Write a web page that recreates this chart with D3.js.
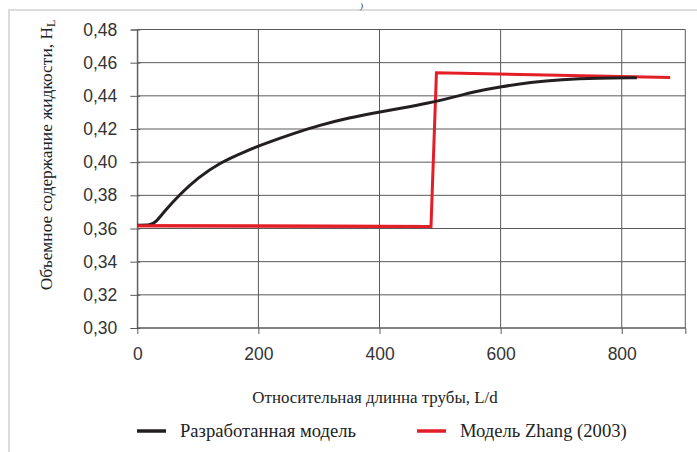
<!DOCTYPE html>
<html>
<head>
<meta charset="utf-8">
<script src="https://cdn.jsdelivr.net/npm/d3@7/dist/d3.min.js"></script>
<style>
  html, body { margin: 0; padding: 0; background: #fff; }
  svg { display: block; }
</style>
</head>
<body>
<svg id="chart" width="697" height="452"></svg>
<script>
// ---- data ----
const xTicks = [0, 200, 400, 600, 800];
const yTicks = [0.30, 0.32, 0.34, 0.36, 0.38, 0.40, 0.42, 0.44, 0.46, 0.48];

const modelL = [0, 22, 30, 45, 70, 100, 135, 180, 215, 260, 300, 350, 400, 440, 480, 520, 560, 600, 650, 700, 760, 825];
const modelH = [0.362, 0.362, 0.3635, 0.3705, 0.3805, 0.3905, 0.3995, 0.4068, 0.4118, 0.4175, 0.4222, 0.4268, 0.4303, 0.4328, 0.4355, 0.4390, 0.4428, 0.4455, 0.4482, 0.4498, 0.4507, 0.4509];

const zhangL = [0, 485, 494, 880];
const zhangH = [0.3617, 0.3612, 0.4539, 0.4511];

const seriesNames = ["Разработанная модель", "Модель Zhang (2003)"];
const seriesColors = ["#231f20", "#e31e27"];

// ---- layout ----
const svg = d3.select("#chart");
const x = d3.scaleLinear().domain([0, 905]).range([137.3, 685.3]);
const y = d3.scaleLinear().domain([0.30, 0.48]).range([328, 29.5]);

// outer frame
svg.append("rect").attr("x", 9).attr("y", 10).attr("width", 700).attr("height", 460)
  .attr("fill", "none").attr("stroke", "#dcdcdc").attr("stroke-width", 2);

// partial caption ")"
svg.append("text").attr("x", 360).attr("y", 8.6)
  .attr("font-family", "Liberation Serif").attr("font-style", "italic")
  .attr("font-size", 9).attr("fill", "#222").text(")");

const gridColor = "#5a5a5a";

// grid lines
svg.append("g").selectAll("line").data(yTicks).join("line")
  .attr("x1", x(0)).attr("x2", x.range()[1])
  .attr("y1", d => y(d)).attr("y2", d => y(d))
  .attr("stroke", gridColor).attr("stroke-width", 1);
svg.append("g").selectAll("line").data(xTicks.concat([905])).join("line")
  .attr("x1", d => x(d)).attr("x2", d => x(d))
  .attr("y1", y(0.48)).attr("y2", y(0.30))
  .attr("stroke", gridColor).attr("stroke-width", 1);

// y axis
const yAxis = d3.axisLeft(y).tickValues(yTicks).tickSize(6).tickPadding(14)
  .tickFormat(d => d3.format(".2f")(d).replace(".", ","));
const gy = svg.append("g").attr("transform", `translate(${x(0)},0)`).call(yAxis);
gy.select(".domain").attr("stroke", gridColor);
gy.selectAll(".tick line").attr("stroke", gridColor).attr("x2", 3).attr("x1", -7);
gy.selectAll(".tick text").attr("font-family", "Liberation Sans").attr("font-size", 17.5).attr("fill", "#333");

// x axis
const xAxis = d3.axisBottom(x).tickValues(xTicks.concat([905])).tickSize(6).tickPadding(14)
  .tickFormat(d => d === 905 ? "" : d);
const gx = svg.append("g").attr("transform", `translate(0,${y(0.30)})`).call(xAxis);
gx.select(".domain").attr("stroke", gridColor).attr("d", `M${x(0)},0H${x.range()[1]}`);
gx.selectAll(".tick line").attr("stroke", gridColor);
gx.selectAll(".tick text").attr("font-family", "Liberation Sans").attr("font-size", 17.5).attr("fill", "#333");

// lines
const model = modelL.map((l, i) => [l, modelH[i]]);
const zhang = zhangL.map((l, i) => [l, zhangH[i]]);

svg.append("path").datum(zhang)
  .attr("d", d3.line().x(d => x(d[0])).y(d => y(d[1])))
  .attr("fill", "none").attr("stroke", seriesColors[1]).attr("stroke-width", 3)
  .attr("stroke-linejoin", "miter");
svg.append("path").datum(model)
  .attr("d", d3.line().curve(d3.curveBasis).x(d => x(d[0])).y(d => y(d[1])))
  .attr("fill", "none").attr("stroke", seriesColors[0]).attr("stroke-width", 3);
// red overlays black along the shared low flat part
svg.append("path").datum(zhang.slice(0, 2))
  .attr("d", d3.line().x(d => x(d[0])).y(d => y(d[1])))
  .attr("fill", "none").attr("stroke", seriesColors[1]).attr("stroke-width", 3);

// axis titles
svg.append("text").attr("x", 375).attr("y", 402.5).attr("text-anchor", "middle")
  .attr("font-family", "Liberation Serif").attr("font-size", 16.9).attr("fill", "#222")
  .text("Относительная длинна трубы, L/d");

const yt = svg.append("text").attr("transform", "translate(52,155) rotate(-90)")
  .attr("text-anchor", "middle")
  .attr("font-family", "Liberation Serif").attr("font-size", 17.4).attr("fill", "#222");
yt.append("tspan").text("Объемное содержание жидкости, H");
yt.append("tspan").attr("font-size", 12).attr("dy", 3).text("L");

// legend
const legX = [137, 417];
const lg = svg.append("g");
seriesNames.forEach((name, i) => {
  lg.append("line").attr("x1", legX[i]).attr("x2", legX[i] + 29)
    .attr("y1", 431).attr("y2", 431)
    .attr("stroke", seriesColors[i]).attr("stroke-width", 3.5);
  lg.append("text").attr("x", legX[i] + 43).attr("y", 437)
    .attr("font-family", "Liberation Serif").attr("font-size", 18.6).attr("fill", "#222")
    .text(name);
});
</script>
</body>
</html>
